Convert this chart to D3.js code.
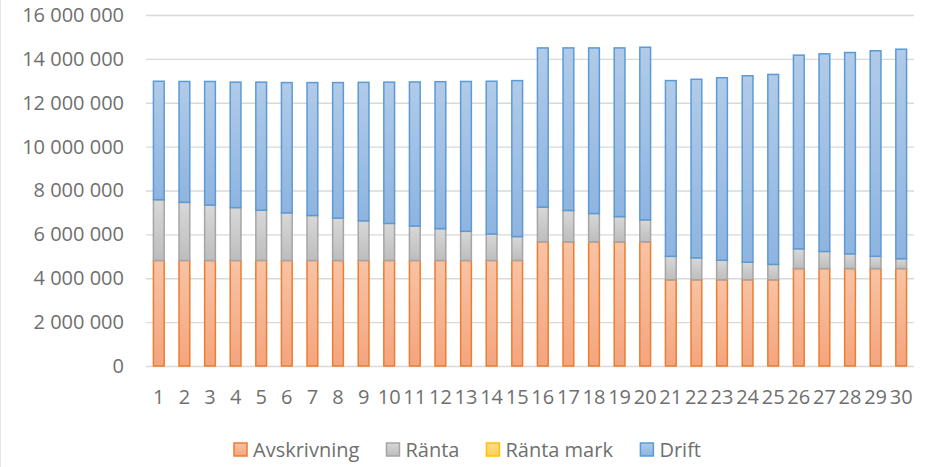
<!DOCTYPE html>
<html>
<head>
<meta charset="utf-8">
<script src="https://cdn.jsdelivr.net/npm/d3@7"></script>
<style>
  html, body { margin: 0; padding: 0; background: #fff; }
  svg { display: block; }
  text { font-family: "Open Sans", "Liberation Sans", sans-serif; fill: #6f6f6f; }
</style>
</head>
<body>
<svg id="chart" width="935" height="467"></svg>
<script>
// ---- Data ----
const years = d3.range(1, 31).map(String);
const seriesNames = ["Avskrivning", "Ränta", "Ränta mark", "Drift"];
const avskrivning = [
  4810000,4810000,4810000,4810000,4810000,4810000,4810000,4810000,4810000,4810000,
  4810000,4810000,4810000,4810000,4810000,5660000,5660000,5660000,5660000,5660000,
  3930000,3930000,3930000,3930000,3930000,4440000,4440000,4440000,4440000,4440000
];
const ranta = [
  2770000,2650000,2530000,2410000,2290000,2170000,2050000,1930000,1810000,1690000,
  1570000,1450000,1330000,1210000,1090000,1580000,1430000,1290000,1150000,1000000,
  1070000,1000000,890000,800000,700000,900000,780000,670000,560000,450000
];
const rantaMark = [
  0,0,0,0,0,0,0,0,0,0,0,0,0,0,0,0,0,0,0,0,0,0,0,0,0,0,0,0,0,0
];
const drift = [
  5400000,5510000,5630000,5720000,5840000,5940000,6060000,6180000,6310000,6440000,
  6570000,6700000,6830000,6960000,7110000,7260000,7410000,7550000,7690000,7870000,
  8010000,8140000,8320000,8500000,8660000,8830000,9010000,9180000,9370000,9550000
];
const yTicks = [0, 2000000, 4000000, 6000000, 8000000, 10000000, 12000000, 14000000, 16000000];

// ---- Styles ----
const styles = {
  "Avskrivning": { stroke: "#ED7D31", top: "#F8C3A5", bottom: "#F4A57E" },
  "Ränta":       { stroke: "#A5A5A5", top: "#D8D8D8", bottom: "#BDBDBD" },
  "Ränta mark":  { stroke: "#FFC000", top: "#FFDD88", bottom: "#FFD15C" },
  "Drift":       { stroke: "#5B9BD5", top: "#B1CBE9", bottom: "#8FB4DF" }
};

const rows = years.map((y, i) => ({
  year: y,
  "Avskrivning": avskrivning[i],
  "Ränta": ranta[i],
  "Ränta mark": rantaMark[i],
  "Drift": drift[i]
}));

const svg = d3.select("#chart");
const W = 935, H = 467;
const plot = { left: 146, right: 914, top: 15, bottom: 366 };

// faint chart border at left edge
svg.append("line").attr("x1", 0.5).attr("x2", 0.5).attr("y1", 0).attr("y2", H)
  .attr("stroke", "#E6E6E6").attr("stroke-width", 1);

const x = d3.scaleBand().domain(years).range([plot.left, plot.right])
  .paddingInner(0.58).paddingOuter(0.29);
const y = d3.scaleLinear().domain([0, 16000000]).range([plot.bottom, plot.top]);

const locale = d3.formatLocale({ decimal: ",", thousands: " ", grouping: [3], currency: ["", ""] });
const fmt = locale.format(",");

// gradients
const defs = svg.append("defs");
seriesNames.forEach((name, k) => {
  const g = defs.append("linearGradient").attr("id", "grad" + k)
    .attr("x1", 0).attr("y1", 0).attr("x2", 0).attr("y2", 1);
  g.append("stop").attr("offset", "0%").attr("stop-color", styles[name].top);
  g.append("stop").attr("offset", "100%").attr("stop-color", styles[name].bottom);
});

// gridlines via axis
const yAxis = d3.axisLeft(y).tickValues(yTicks).tickFormat(fmt)
  .tickSize(-(plot.right - plot.left)).tickPadding(22);
const gy = svg.append("g").attr("transform", `translate(${plot.left},0)`).call(yAxis);
gy.select(".domain").remove();
gy.selectAll(".tick line").attr("stroke", "#D9D9D9").attr("stroke-width", 1.3);
gy.selectAll(".tick text").style("font-size", "20px").attr("fill", "#6f6f6f");

// stacked bars
const stack = d3.stack().keys(seriesNames);
const stacked = stack(rows);

svg.append("g").selectAll("g").data(stacked).join("g")
  .attr("fill", (d, k) => `url(#grad${k})`)
  .attr("stroke", d => styles[d.key].stroke)
  .attr("stroke-width", 1.5)
  .selectAll("rect")
  .data(d => d.filter(s => s[1] - s[0] > 0))
  .join("rect")
  .attr("x", d => x(d.data.year))
  .attr("width", x.bandwidth())
  .attr("y", d => y(d[1]))
  .attr("height", d => y(d[0]) - y(d[1]));

// x axis
const xAxis = d3.axisBottom(x).tickSize(0).tickPadding(24);
const gx = svg.append("g").attr("transform", `translate(0,${plot.bottom})`).call(xAxis);
gx.select(".domain").remove();
gx.selectAll(".tick text").style("font-size", "20px").attr("fill", "#6f6f6f");

// legend
const legend = svg.append("g");
const items = legend.selectAll("g").data(seriesNames).join("g");
items.append("rect")
  .attr("width", 13).attr("height", 13)
  .attr("y", -7)
  .attr("fill", (d, k) => `url(#grad${k})`)
  .attr("stroke", d => styles[d].stroke)
  .attr("stroke-width", 1.5);
items.append("text").text(d => d)
  .attr("x", 19).attr("dy", "0.35em")
  .style("font-size", "20px");
let cx = 0;
const gap = 27;
items.each(function () {
  const w = this.getBBox().width;
  d3.select(this).attr("transform", `translate(${cx},0)`);
  cx += w + gap;
});
const totalW = cx - gap;
legend.attr("transform", `translate(${(W - totalW) / 2},450)`);
</script>
</body>
</html>
